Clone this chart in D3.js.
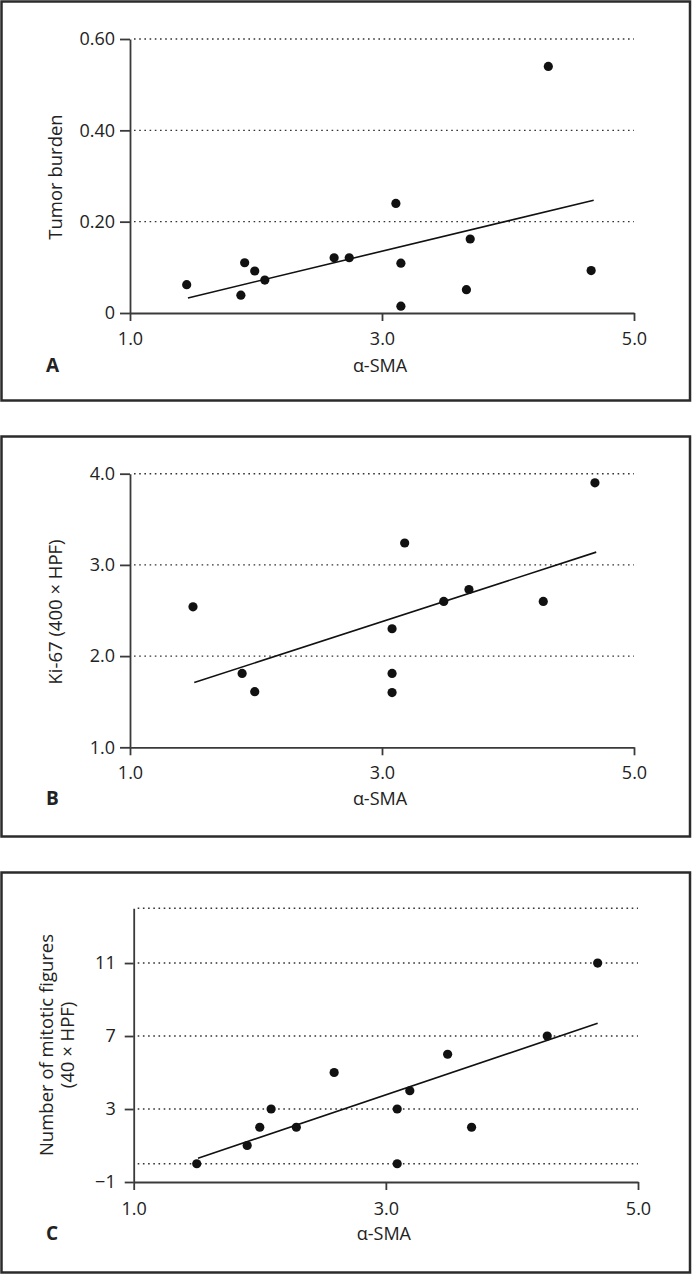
<!DOCTYPE html>
<html>
<head>
<meta charset="utf-8">
<script src="https://cdn.jsdelivr.net/npm/d3@7"></script>
<style>
  html, body { margin: 0; padding: 0; background: #fff; }
  svg text { font-family: "Open Sans", "Noto Sans", sans-serif; fill: #222; }
</style>
</head>
<body>
<svg id="chart" width="692" height="1275"></svg>
<script>
// ---------- DATA ----------
const xTicks = [1.0, 3.0, 5.0];
const xLabel = "α-SMA";

// Panel A
const smaA = [1.45, 1.88, 1.91, 1.99, 2.07, 2.62, 2.74, 3.11, 3.15, 3.15, 3.67, 3.70, 4.32, 4.66];
const tumorBurden = [0.062, 0.039, 0.110, 0.092, 0.072, 0.121, 0.121, 0.240, 0.109, 0.015, 0.051, 0.162, 0.540, 0.093];
const trendAx = [1.46, 4.68];
const trendAy = [0.033, 0.247];
const yTicksA = [0, 0.20, 0.40, 0.60];
const yTickLabelsA = ["0", "0.20", "0.40", "0.60"];
const gridA = [0.20, 0.40, 0.60];

// Panel B
const smaB = [1.50, 1.89, 1.99, 3.08, 3.08, 3.08, 3.18, 3.49, 3.69, 4.28, 4.69];
const ki67 = [2.54, 1.81, 1.61, 2.30, 1.81, 1.60, 3.24, 2.60, 2.73, 2.60, 3.90];
const trendBx = [1.51, 4.70];
const trendBy = [1.71, 3.14];
const yTicksB = [1.0, 2.0, 3.0, 4.0];
const yTickLabelsB = ["1.0", "2.0", "3.0", "4.0"];
const gridB = [2.0, 3.0, 4.0];

// Panel C
const smaC = [1.50, 1.90, 2.00, 2.09, 2.29, 2.59, 3.09, 3.09, 3.19, 3.49, 3.68, 4.28, 4.68];
const mitoses = [0, 1, 2, 3, 2, 5, 3, 0, 4, 6, 2, 7, 11];
const trendCx = [1.51, 4.68];
const trendCy = [0.30, 7.70];
const yTicksC = [-1, 3, 7, 11];
const yTickLabelsC = ["\u22121", "3", "7", "11"];
const gridC = [0, 3, 7, 11, 14];

// ---------- DRAW ----------
const svg = d3.select("#chart");

function panel(cfg) {
  const g = svg.append("g");
  // frame
  g.append("rect")
    .attr("x", 1.5).attr("y", cfg.frameTop + 0.5)
    .attr("width", 688.5).attr("height", cfg.frameH)
    .attr("fill", "none").attr("stroke", "#2b2b2b").attr("stroke-width", 2.5);

  const x = d3.scaleLinear().domain([1, 5]).range([cfg.x0, cfg.x1]);
  const y = d3.scaleLinear().domain(cfg.yDomain).range([cfg.yBottom, cfg.yTop]);

  // grid
  g.append("g").selectAll("line").data(cfg.grid).join("line")
    .attr("x1", cfg.x0 + 4).attr("x2", cfg.x1)
    .attr("y1", d => y(d)).attr("y2", d => y(d))
    .attr("stroke", "#333").attr("stroke-width", 1.4)
    .attr("stroke-dasharray", "1.6,3.6");

  // y axis
  const ya = g.append("g").attr("transform", `translate(${cfg.x0},0)`)
    .call(d3.axisLeft(y).tickValues(cfg.yTicks)
      .tickFormat((d, i) => cfg.yTickLabels[i])
      .tickSize(cfg.yTickSize).tickSizeOuter(0).tickPadding(cfg.yPad));
  ya.select(".domain").attr("stroke", "#3a3a3a").attr("stroke-width", 1.8);
  ya.selectAll(".tick line").attr("stroke", "#3a3a3a").attr("stroke-width", 1.8);
  ya.selectAll(".tick text").attr("font-size", 18).attr("fill", "#222")
    .attr("font-family", "'Open Sans', 'Noto Sans', sans-serif");

  // x axis
  const xa = g.append("g").attr("transform", `translate(0,${cfg.yBottom})`)
    .call(d3.axisBottom(x).tickValues(xTicks).tickFormat(d3.format(".1f"))
      .tickSize(8).tickSizeOuter(0));
  xa.select(".domain").attr("stroke", "#3a3a3a").attr("stroke-width", 1.8);
  xa.selectAll(".tick line").attr("stroke", "#3a3a3a").attr("stroke-width", 1.8);
  xa.selectAll(".tick text").attr("font-size", 18).attr("fill", "#222")
    .attr("y", cfg.xTickBase).attr("dy", null)
    .attr("font-family", "'Open Sans', 'Noto Sans', sans-serif");

  // trend line
  g.append("line")
    .attr("x1", x(cfg.tx[0])).attr("y1", y(cfg.ty[0]))
    .attr("x2", x(cfg.tx[1])).attr("y2", y(cfg.ty[1]))
    .attr("stroke", "#111").attr("stroke-width", 1.6);

  // points
  g.append("g").selectAll("circle").data(cfg.xs).join("circle")
    .attr("cx", d => x(d)).attr("cy", (d, i) => y(cfg.ys[i]))
    .attr("r", 4.6).attr("fill", "#111");

  // x label
  g.append("text").attr("x", (cfg.x0 + cfg.x1) / 2 - 2).attr("y", cfg.yBottom + cfg.xLabelBase)
    .attr("text-anchor", "middle").attr("font-size", 18).text(xLabel);

  // panel letter
  g.append("text").attr("x", 46).attr("y", cfg.yBottom + cfg.xLabelBase)
    .attr("font-size", 19).attr("font-weight", "bold").attr("fill", "#111").text(cfg.letter);

  // y label
  const yl = g.append("text")
    .attr("transform", `translate(${cfg.yLabelX},${cfg.yLabelY}) rotate(-90)`)
    .attr("text-anchor", "middle").attr("font-size", 18.5);
  cfg.yLabel.forEach((t, i) => {
    yl.append("tspan").attr("x", 0).attr("dy", i === 0 ? (cfg.yLabel.length > 1 ? "-0.1em" : "0.35em") : "1.15em").text(t);
  });
}

panel({
  letter: "A", frameTop: 1, frameH: 399,
  x0: 130, x1: 634, yTop: 39, yBottom: 313, yDomain: [0, 0.6],
  yTicks: yTicksA, yTickLabels: yTickLabelsA, grid: gridA, yTickSize: 10, yPad: 5,
  xs: smaA, ys: tumorBurden, tx: trendAx, ty: trendAy,
  xTickBase: 32, xLabelBase: 59,
  yLabel: ["Tumor burden"], yLabelX: 56, yLabelY: 177
});

panel({
  letter: "B", frameTop: 436, frameH: 400,
  x0: 130, x1: 634, yTop: 473.7, yBottom: 747.3, yDomain: [1, 4],
  yTicks: yTicksB, yTickLabels: yTickLabelsB, grid: gridB, yTickSize: 10, yPad: 5,
  xs: smaB, ys: ki67, tx: trendBx, ty: trendBy,
  xTickBase: 32, xLabelBase: 58,
  yLabel: ["Ki-67 (400 × HPF)"], yLabelX: 56, yLabelY: 612
});

panel({
  letter: "C", frameTop: 872, frameH: 400,
  x0: 133.7, x1: 638, yTop: 908.3, yBottom: 1182, yDomain: [-1, 14],
  yTicks: yTicksC, yTickLabels: yTickLabelsC, grid: gridC, yTickSize: 9, yPad: 9,
  xs: smaC, ys: mitoses, tx: trendCx, ty: trendCy,
  xTickBase: 33, xLabelBase: 58,
  yLabel: ["Number of mitotic figures", "(40 × HPF)"], yLabelX: 55, yLabelY: 1045
});
</script>
</body>
</html>
